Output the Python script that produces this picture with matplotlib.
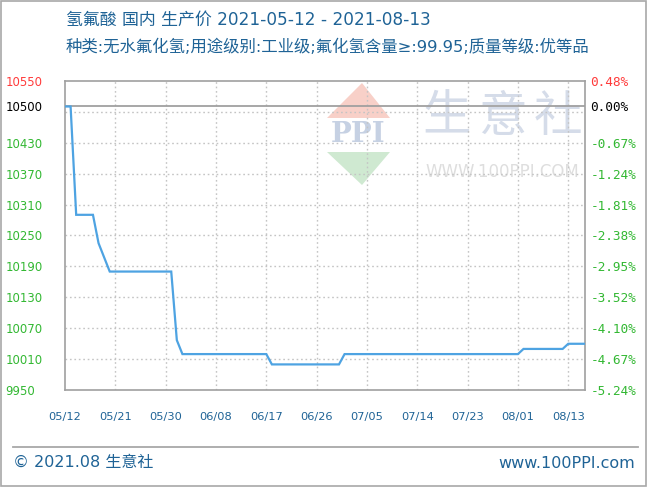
import matplotlib
matplotlib.use("Agg")
import matplotlib.pyplot as plt
import pandas as pd
from matplotlib.patches import Polygon, Rectangle
from matplotlib.lines import Line2D

plt.rcParams['font.family'] = ['DejaVu Sans', 'Noto Sans CJK SC']

# ---------------- data ----------------
dates = ['2021-05-12', '2021-05-13', '2021-05-14', '2021-05-17', '2021-05-18',
         '2021-05-20', '2021-05-31', '2021-06-01', '2021-06-02', '2021-06-17',
         '2021-06-18', '2021-06-30', '2021-07-01', '2021-08-01', '2021-08-02',
         '2021-08-09', '2021-08-10', '2021-08-13']
prices = [10500, 10500, 10290, 10290, 10235,
          10180, 10180, 10047, 10020, 10020,
          10000, 10000, 10020, 10020, 10030,
          10030, 10040, 10040]

x_start = '2021-05-12'
x_end = '2021-08-13'
tick_dates = ['2021-05-12', '2021-05-21', '2021-05-30', '2021-06-08', '2021-06-17',
              '2021-06-26', '2021-07-05', '2021-07-14', '2021-07-23', '2021-08-01',
              '2021-08-10']
tick_labels = ['05/12', '05/21', '05/30', '06/08', '06/17', '06/26', '07/05',
               '07/14', '07/23', '08/01', '08/13']

y_min, y_max = 9950, 10550
base_price = 10500
y_ticks = [9950, 10010, 10070, 10130, 10190, 10250, 10310, 10370, 10430, 10500, 10550]
y_left_labels = ['9950', '10010', '10070', '10130', '10190', '10250', '10310',
                 '10370', '10430', '10500', '10550']
y_right_labels = ['-5.24%', '-4.67%', '-4.10%', '-3.52%', '-2.95%', '-2.38%',
                  '-1.81%', '-1.24%', '-0.67%', '0.00%', '0.48%']
grid_y = [10010, 10070, 10130, 10190, 10250, 10310, 10370, 10430, 10490]

title_text = '氢氟酸 国内 生产价 2021-05-12 - 2021-08-13'
subtitle_text = '种类:无水氟化氢;用途级别:工业级;氟化氢含量≥:99.95;质量等级:优等品'
footer_left = '© 2021.08 生意社'
footer_right = 'www.100PPI.com'

# ---------------- styles ----------------
W, H = 650, 488
TEXT_BLUE = '#1f6396'
GRID = '#c4c4c4'
SPINE = '#a0a0a0'
LINE = '#4ea3e2'
RED = '#ff3b3b'
GREEN = '#33b833'


def fx(px):
    return px / W


def fy(py):
    return 1 - py / H


fig = plt.figure(figsize=(W / 100, H / 100), dpi=100)
fig.patch.set_facecolor('white')

# outer border
fig.patches.append(Rectangle((fx(1), fy(486)), fx(646) - fx(1), fy(1) - fy(486),
                             transform=fig.transFigure, fill=False,
                             edgecolor='#a8a8a8', lw=1.2, zorder=-10))

ax = fig.add_axes([fx(65), fy(390.2), fx(585) - fx(65), fy(80.7) - fy(390.2)])
ax.set_facecolor('none')

xd = pd.to_datetime(dates)
ax.set_xlim(pd.Timestamp(x_start), pd.Timestamp(x_end))
ax.set_ylim(y_min, y_max)

# grid
for gy in grid_y:
    ax.axhline(gy, color=GRID, lw=1.0, ls=(0, (1.2, 2.0)), zorder=1)
for td in tick_dates[1:]:
    ax.axvline(pd.Timestamp(td), color=GRID, lw=1.0, ls=(0, (1.2, 2.0)), zorder=1)
ax.axhline(base_price, color=SPINE, lw=1.3, zorder=2)

ax.plot(xd, prices, color=LINE, lw=1.6, zorder=3, solid_joinstyle='miter')

for s in ax.spines.values():
    s.set_color(SPINE)
    s.set_linewidth(1.2)

ax.set_xticks(pd.to_datetime(tick_dates))
ax.set_xticklabels(tick_labels)
ax.tick_params(axis='x', length=0, pad=16, labelsize=8.2, labelcolor=TEXT_BLUE)

ax.set_yticks(y_ticks)
ax.set_yticklabels(y_left_labels)
ax.tick_params(axis='y', length=0, pad=43, labelsize=8.5)
label_colors = [GREEN] * 9 + ['black', RED]
for lab, c in zip(ax.get_yticklabels(), label_colors):
    lab.set_color(c)
    lab.set_horizontalalignment('left')

ax2 = ax.twinx()
ax2.set_ylim(y_min, y_max)
ax2.set_yticks(y_ticks)
ax2.set_yticklabels(y_right_labels, family='DejaVu Sans Mono')
ax2.tick_params(axis='y', length=0, pad=4, labelsize=9.2)
for lab, c in zip(ax2.get_yticklabels(), label_colors):
    lab.set_color(c)
for s in ax2.spines.values():
    s.set_visible(False)

# watermark
fig.patches.append(Polygon([(fx(362), fy(83)), (fx(327), fy(118)), (fx(390), fy(118))],
                           closed=True, transform=fig.transFigure,
                           facecolor='#f8d0c8', edgecolor='none', zorder=-5))
fig.patches.append(Polygon([(fx(327), fy(152)), (fx(390), fy(152)), (fx(362), fy(185))],
                           closed=True, transform=fig.transFigure,
                           facecolor='#cfe9d1', edgecolor='none', zorder=-5))
fig.text(fx(358), fy(135), 'PPI', family='DejaVu Serif', weight='bold', fontsize=20,
         color='#c6d1e3', ha='center', va='center', zorder=-5)
for ch, cx in zip('生意社', [447, 502, 558]):
    fig.text(fx(cx), fy(117), ch, family='Noto Sans CJK SC', fontsize=35,
             color='#d5dce9', ha='center', va='center', zorder=-5)
fig.text(fx(502), fy(172), 'WWW.100PPI.COM', fontsize=12, color='#dedede',
         ha='center', va='center', zorder=-5)

# titles
fig.text(fx(66), fy(20), title_text, fontsize=12.2, color=TEXT_BLUE,
         ha='left', va='center')
fig.text(fx(66), fy(47), subtitle_text, fontsize=11.8, color=TEXT_BLUE,
         ha='left', va='center')

# footer
fig.lines.append(Line2D([fx(13), fx(638)], [fy(446.7), fy(446.7)],
                        transform=fig.transFigure, color='#a8a8a8', lw=1.3))
fig.text(fx(13), fy(463), footer_left, fontsize=11.5, color=TEXT_BLUE,
         ha='left', va='center')
fig.text(fx(635), fy(463), footer_right, fontsize=11.5, color=TEXT_BLUE,
         ha='right', va='center')

fig.savefig('out.png', dpi=100)
